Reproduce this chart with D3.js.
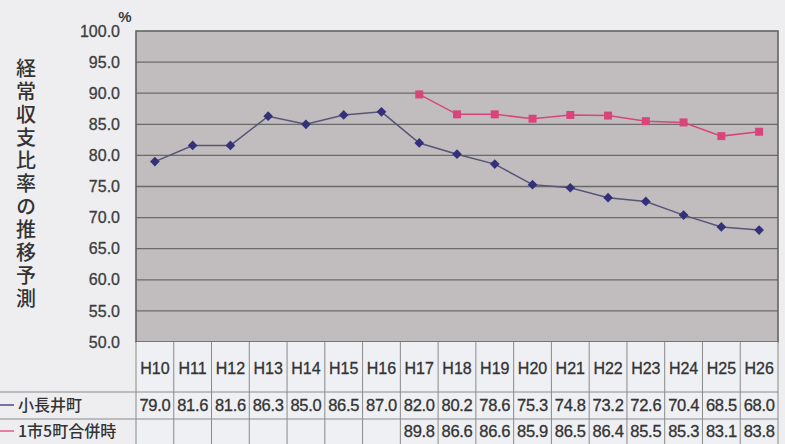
<!DOCTYPE html>
<html>
<head>
<meta charset="utf-8">
<script src="https://cdn.jsdelivr.net/npm/d3@7"></script>
<style>
  body { margin: 0; background: #eeeef1; }
  svg { display: block; }
</style>
</head>
<body>
<svg id="chart" width="785" height="444"></svg>
<script>
// data
let years = ["H10","H11","H12","H13","H14","H15","H16","H17","H18","H19","H20","H21","H22","H23","H24","H25","H26"];
let konagai = [79.0,81.6,81.6,86.3,85.0,86.5,87.0,82.0,80.2,78.6,75.3,74.8,73.2,72.6,70.4,68.5,68.0];
let merged = [null,null,null,null,null,null,null,89.8,86.6,86.6,85.9,86.5,86.4,85.5,85.3,83.1,83.8];
let seriesNames = ["小長井町", "1市5町合併時"];
let yTicks = [50,55,60,65,70,75,80,85,90,95,100];
let title = "経常収支比率の推移予測";

let width = 785;
let height = 444;
let plot = {left: 136, right: 778, top: 31, bottom: 342};
let rows = {head: 392, r1: 419, r2: 444};
let colors = {konagai: "#35307a", konagaiLine: "#555578", merged: "#d8457a"};
let font = "'Liberation Sans', 'Noto Sans CJK JP', sans-serif";
let cjk = "'Noto Sans CJK JP', sans-serif";

let svg = d3.select('#chart');

let xScale = d3.scaleBand().domain(years).range([plot.left, plot.right]);
let yScale = d3.scaleLinear().domain([50, 100]).range([plot.bottom, plot.top]);

// plot background
svg.append('rect')
    .attr('x', plot.left)
    .attr('y', plot.top)
    .attr('width', plot.right - plot.left)
    .attr('height', plot.bottom - plot.top)
    .attr('fill', '#c1bdbe');

// gridlines
svg.append('g')
    .selectAll('line')
    .data(yTicks.filter(d => d > 50 && d < 100))
    .enter()
    .append('line')
    .attr('x1', plot.left)
    .attr('x2', plot.right)
    .attr('y1', d => yScale(d))
    .attr('y2', d => yScale(d))
    .attr('stroke', '#6a6a6a')
    .attr('stroke-width', 1.3);

svg.append('rect')
    .attr('x', plot.left)
    .attr('y', plot.top)
    .attr('width', plot.right - plot.left)
    .attr('height', plot.bottom - plot.top)
    .attr('fill', 'none')
    .attr('stroke', '#636363')
    .attr('stroke-width', 1.6);

// y axis
let yAxis = d3.axisLeft(yScale)
    .tickValues(yTicks)
    .tickSize(0)
    .tickPadding(16)
    .tickFormat(d3.format('.1f'));
let ya = svg.append('g')
    .attr('transform', 'translate(' + plot.left + ',0)')
    .call(yAxis);
ya.select('.domain').remove();
ya.selectAll('text')
    .attr('font-family', font)
    .attr('font-size', 16)
    .attr('fill', '#3d3d3d')
    .attr('stroke', '#3d3d3d')
    .attr('stroke-width', 0.3);

svg.append('text')
    .attr('x', 125)
    .attr('y', 22)
    .attr('text-anchor', 'middle')
    .attr('font-family', font)
    .attr('font-size', 15)
    .attr('font-weight', 'bold')
    .attr('fill', '#3d3d3d')
    .text('%');

// vertical title
svg.append('text')
    .attr('x', 26)
    .attr('y', 58)
    .attr('writing-mode', 'vertical-rl')
    .attr('letter-spacing', 3)
    .attr('font-family', cjk)
    .attr('font-size', 20)
    .attr('font-weight', 500)
    .attr('fill', '#333')
    .text(title);

// lines
let line = d3.line()
    .defined(d => d.v != null)
    .x(d => xScale(d.year) + xScale.bandwidth() / 2)
    .y(d => yScale(d.v));

let konagaiData = years.map((y, i) => ({year: y, v: konagai[i]}));
let mergedData = years.map((y, i) => ({year: y, v: merged[i]}));

svg.append('path')
    .datum(konagaiData)
    .attr('d', line)
    .attr('fill', 'none')
    .attr('stroke', colors.konagaiLine)
    .attr('stroke-width', 1.5);

svg.append('path')
    .datum(mergedData)
    .attr('d', line)
    .attr('fill', 'none')
    .attr('stroke', colors.merged)
    .attr('stroke-width', 1.5);

svg.append('g')
    .selectAll('path')
    .data(konagaiData)
    .enter()
    .append('path')
    .attr('d', d3.symbol().type(d3.symbolDiamond2).size(60))
    .attr('transform', d => 'translate(' + (xScale(d.year) + xScale.bandwidth() / 2) + ',' + yScale(d.v) + ')')
    .attr('fill', colors.konagai);

svg.append('g')
    .selectAll('rect')
    .data(mergedData.filter(d => d.v != null))
    .enter()
    .append('rect')
    .attr('x', d => xScale(d.year) + xScale.bandwidth() / 2 - 4)
    .attr('y', d => yScale(d.v) - 4)
    .attr('width', 8)
    .attr('height', 8)
    .attr('fill', colors.merged);

// data table
let table = svg.append('g');
table.append('rect')
    .attr('x', plot.left)
    .attr('y', plot.bottom)
    .attr('width', plot.right - plot.left)
    .attr('height', rows.r2 - plot.bottom)
    .attr('fill', '#eff0f4');

table.selectAll('line.col')
    .data(years.map(y => xScale(y)).concat([plot.right]))
    .enter()
    .append('line')
    .attr('class', 'col')
    .attr('x1', d => d)
    .attr('x2', d => d)
    .attr('y1', plot.bottom)
    .attr('y2', rows.r2)
    .attr('stroke', '#8a8a8a')
    .attr('stroke-width', 1);

table.selectAll('line.row')
    .data([rows.head, rows.r1])
    .enter()
    .append('line')
    .attr('class', 'row')
    .attr('x1', 0)
    .attr('x2', plot.right)
    .attr('y1', d => d)
    .attr('y2', d => d)
    .attr('stroke', '#8a8a8a');

// year labels
let xAxis = d3.axisBottom(xScale).tickSize(0).tickPadding(0);
let xa = svg.append('g')
    .attr('transform', 'translate(0,' + 363 + ')')
    .call(xAxis);
xa.select('.domain').remove();
xa.selectAll('text')
    .attr('font-family', font)
    .attr('font-size', 16)
    .attr('fill', '#333')
    .attr('stroke', '#333')
    .attr('stroke-width', 0.3);

function valueRow(vals, yPos) {
    table.append('g')
        .selectAll('text')
        .data(years.map((y, i) => ({year: y, v: vals[i]})).filter(d => d.v != null))
        .enter()
        .append('text')
        .attr('x', d => xScale(d.year) + xScale.bandwidth() / 2)
        .attr('y', yPos)
        .attr('text-anchor', 'middle')
        .attr('font-family', font)
        .attr('font-size', 16.5)
        .attr('letter-spacing', -0.3)
        .attr('fill', '#333')
        .attr('stroke', '#333')
        .attr('stroke-width', 0.3)
        .text(d => d.v.toFixed(1));
}
valueRow(konagai, 411);
valueRow(merged, 437);

// legend keys in the table
let legend = [
    {name: seriesNames[0], color: colors.konagai, y: 405},
    {name: seriesNames[1], color: colors.merged, y: 431}
];
let lg = table.selectAll('g.legend')
    .data(legend)
    .enter()
    .append('g')
    .attr('class', 'legend');
lg.append('line')
    .attr('x1', 0)
    .attr('x2', 14)
    .attr('y1', d => d.y)
    .attr('y2', d => d.y)
    .attr('stroke', d => d.color)
    .attr('stroke-width', 1.3);
lg.append('text')
    .attr('x', 18)
    .attr('y', d => d.y + 6)
    .attr('font-family', cjk)
    .attr('font-size', 16)
    .attr('font-weight', 500)
    .attr('fill', '#333')
    .text(d => d.name);
</script>
</body>
</html>
